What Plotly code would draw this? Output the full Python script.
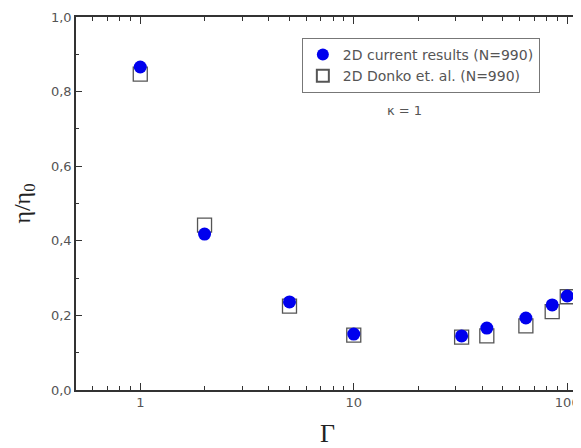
import plotly.graph_objects as go
import math

# Data
gamma_current = [1, 2, 5, 10, 32, 42, 64, 85, 100]
eta_current = [0.866, 0.418, 0.236, 0.150, 0.145, 0.166, 0.193, 0.228, 0.252]
gamma_donko = [1, 2, 5, 10, 32, 42, 64, 85, 100]
eta_donko = [0.847, 0.442, 0.225, 0.147, 0.142, 0.145, 0.172, 0.210, 0.250]

y_tickvals = [0.0, 0.2, 0.4, 0.6, 0.8, 1.0]
y_ticktext = ["0,0", "0,2", "0,4", "0,6", "0,8", "1,0"]
x_tickvals = [1, 10, 100]
x_ticktext = ["1", "10", "100"]
x_minor = [0.5, 0.6, 0.7, 0.8, 0.9, 2, 3, 4, 5, 6, 7, 8, 9, 20, 30, 40, 50, 60, 70, 80, 90]
y_minor = [0.1, 0.3, 0.5, 0.7, 0.9]

axis_color = "#333333"
text_color = "#555555"
sans = "DejaVu Sans, Arial"

fig = go.Figure()
fig.add_trace(go.Scatter(
    x=gamma_donko, y=eta_donko, mode="markers", name="2D Donko et. al. (N=990)",
    marker=dict(symbol="square-open", size=14, color="#555555", line=dict(width=1.3)),
    legendrank=2,
))
fig.add_trace(go.Scatter(
    x=gamma_current, y=eta_current, mode="markers", name="2D current results (N=990)",
    marker=dict(symbol="circle", size=13, color="#0000ee"),
    legendrank=1,
))

# page body adds an 8px offset, so the figure is sized/margined to compensate
fig.update_layout(
    width=573, height=440,
    margin=dict(l=68, r=2, t=9, b=58),
    paper_bgcolor="white", plot_bgcolor="white",
    font=dict(family=sans, size=13, color=text_color),
    showlegend=True,
    legend=dict(
        x=0.449, y=0.944, xanchor="left", yanchor="top",
        bgcolor="white", bordercolor="#777777", borderwidth=1,
        font=dict(family=sans, size=14, color=text_color),
        itemsizing="constant", tracegroupgap=0,
    ),
    xaxis=dict(
        type="log", range=[math.log10(0.5), math.log10(113.5)],
        tickvals=x_tickvals, ticktext=x_ticktext,
        ticks="inside", ticklen=7, tickwidth=1, tickcolor=axis_color,
        minor=dict(tickvals=x_minor, ticks="inside", ticklen=4, tickcolor=axis_color, showgrid=False),
        showline=True, linecolor=axis_color, linewidth=1.5, mirror="ticks",
        showgrid=False, zeroline=False, automargin=False,
        tickfont=dict(family=sans, size=13, color=text_color),
        title=dict(text="Γ", font=dict(family="Liberation Serif, Times New Roman", size=26, color="#222222"), standoff=23),
    ),
    yaxis=dict(
        range=[0, 1.0],
        tickvals=y_tickvals, ticktext=y_ticktext,
        ticks="inside", ticklen=6, tickwidth=1, tickcolor=axis_color,
        minor=dict(tickvals=y_minor, ticks="inside", ticklen=3, tickcolor=axis_color, showgrid=False),
        showline=True, linecolor=axis_color, linewidth=1.5, mirror="ticks",
        showgrid=False, zeroline=False, automargin=False,
        tickfont=dict(family=sans, size=13, color=text_color),
        title=dict(text="η/η<sub>0</sub>", font=dict(family="Liberation Serif, Times New Roman", size=24, color="#222222"), standoff=14),
    ),
    annotations=[dict(
        x=math.log10(17.2), y=0.75, xref="x", yref="y", text="κ = 1", showarrow=False,
        font=dict(family=sans, size=13, color=text_color),
    )],
)

fig.write_html("out.html")
